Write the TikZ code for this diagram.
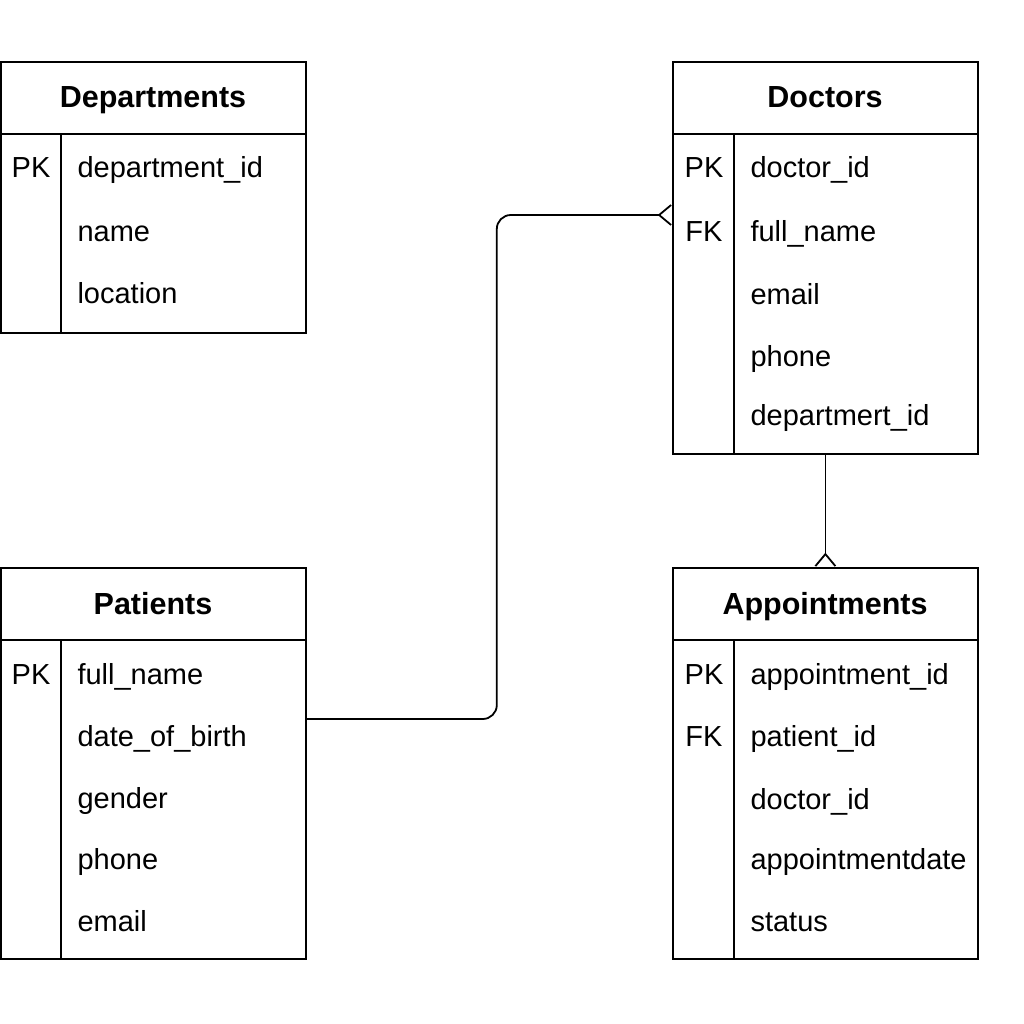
\documentclass[tikz,border=0pt]{standalone}
\usepackage{fontspec}
\setmainfont{Liberation Sans}
\usetikzlibrary{arrows.meta}

\begin{document}
\begin{tikzpicture}[
  x=1pt,y=-1pt,
  tbl/.style={draw,line width=1.8pt,anchor=north west,minimum width=305pt,inner sep=0pt},
  sep/.style={line width=1.8pt},
  head/.style={anchor=base,font=\fontsize{30.5}{36}\selectfont\bfseries},
  key/.style={anchor=base,font=\fontsize{29}{34}\selectfont},
  fld/.style={anchor=base west,font=\fontsize{29}{34}\selectfont},
  rel/.style={line width=1.8pt,rounded corners=14pt,-{Straight Barb[reversed,length=12pt,width=20pt]}}
]
\useasboundingbox (0,0) rectangle (1024,1024);

% Departments
\node[tbl,minimum height=271pt] (dep) at (0,61) {};
\draw[sep] (0,134) -- (305,134) (61,134) -- (61,332);
\node[head] (depHead) at (153,108) {Departments};
\node[key] (depPK) at (31,178) {PK};
\node[fld] (depId) at (74,178) {department\_id};
\node[fld] (depName) at (74,241) {name};
\node[fld] (depLoc) at (74,303) {location};

% Doctors
\node[tbl,minimum height=392pt] (doc) at (672,61) {};
\draw[sep] (672,134) -- (977,134) (734,134) -- (734,453);
\node[head] (docHead) at (825,108) {Doctors};
\node[key] (docPK) at (704,178) {PK};
\node[key] (docFK) at (704,241) {FK};
\node[fld] (docId) at (747,178) {doctor\_id};
\node[fld] (docName) at (747,241) {full\_name};
\node[fld] (docMail) at (747,304) {email};
\node[fld] (docPhone) at (747,366) {phone};
\node[fld] (docDep) at (747,425) {departmert\_id};

% Patients
\node[tbl,minimum height=391pt] (pat) at (0,567) {};
\draw[sep] (0,640) -- (305,640) (61,640) -- (61,958);
\node[head] (patHead) at (153,614) {Patients};
\node[key] (patPK) at (31,684) {PK};
\node[fld] (patName) at (74,684) {full\_name};
\node[fld] (patBirth) at (74,746) {date\_of\_birth};
\node[fld] (patGender) at (74,808) {gender};
\node[fld] (patPhone) at (74,869) {phone};
\node[fld] (patMail) at (74,931) {email};

% Appointments
\node[tbl,minimum height=391pt] (app) at (672,567) {};
\draw[sep] (672,640) -- (977,640) (734,640) -- (734,958);
\node[head] (appHead) at (825,614) {Appointments};
\node[key] (appPK) at (704,684) {PK};
\node[key] (appFK) at (704,746) {FK};
\node[fld] (appId) at (747,684) {appointment\_id};
\node[fld] (appPat) at (747,746) {patient\_id};
\node[fld] (appDoc) at (747,809) {doctor\_id};
\node[fld] (appDate) at (747,869) {appointmentdate};
\node[fld] (appStatus) at (747,931) {status};

% relations
\coordinate (patOut) at ([yshift=-152pt]pat.north east);
\coordinate (docIn) at ([yshift=-154pt]doc.north west);
\draw[rel] (patOut) -- ++(190,0) |- (docIn);
\draw[rel] (doc.south) -- (app.north);
\end{tikzpicture}
\end{document}
